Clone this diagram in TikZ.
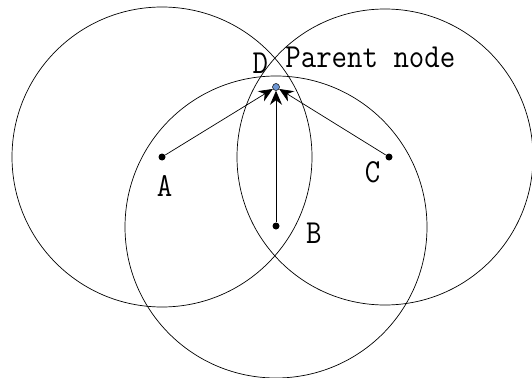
\documentclass[tikz,border=0pt]{standalone}
\usepackage{graphicx}
\usetikzlibrary{positioning,arrows.meta}
\newcommand{\tallt}[1]{\scalebox{1}[1.12]{#1}}

\begin{document}
\begin{tikzpicture}[x=1pt,y=-1pt,>={Stealth[length=14pt,width=12pt]},line width=0.7pt,
  pt/.style={circle,fill=black,inner sep=0pt,minimum size=7pt},
  lbl/.style={font=\ttfamily\fontsize{30}{30}\selectfont,inner sep=0pt}]
  \useasboundingbox (0,0) rectangle (532,377);
  % sensor nodes
  \node[pt] (a) at (162,157) {};
  \node[pt] (b) at (276,226) {};
  \node[pt] (c) at (389,157) {};
  \node[circle,draw=black,fill={rgb,255:red,110;green,150;blue,210},inner sep=0pt,minimum size=7pt,line width=0.5pt] (d) at (276,87) {};
  % coverage ranges
  \draw (162,157) circle (150);
  \draw (276,227) circle (151);
  \draw (385,157) circle (148);
  % links to parent
  \draw[->] (a) -- (d);
  \draw[->] (b) -- (d);
  \draw[->] (c) -- (d);
  % labels
  \node[lbl,below=14pt of a,xshift=2.5pt] {\tallt{A}};
  \node[lbl,below right=-6.5pt and 27pt of b] {\tallt{B}};
  \node[lbl,below left=1.5pt and 5.5pt of c] {\tallt{C}};
  \node[lbl,above left=10.5pt and 5pt of d] {\tallt{D}};
  \node[lbl,anchor=base west] at (285,68) {\tallt{Parent node}};
\end{tikzpicture}
\end{document}
